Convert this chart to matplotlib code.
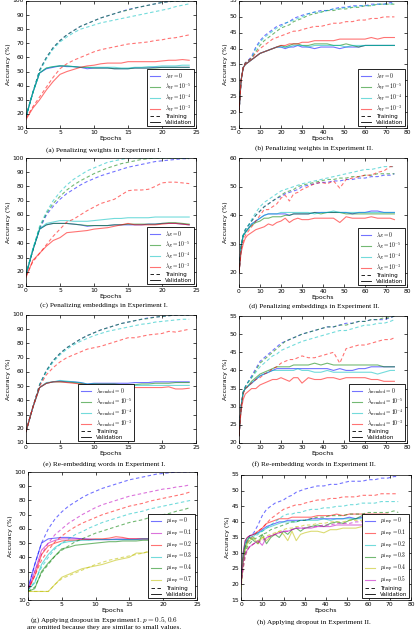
import matplotlib
matplotlib.use("Agg")
import matplotlib.pyplot as plt
from matplotlib.lines import Line2D

plt.style.use("classic")
plt.rcParams["mathtext.fontset"] = "cm"
plt.rcParams["font.family"] = "DejaVu Sans"
plt.rcParams["figure.facecolor"] = "white"

# epochs
epochs1 = list(range(25))
epochs2 = [0, 1, 2, 3, 4, 6, 8, 10, 12, 14, 16,
           18, 20, 22, 24, 26, 28, 30, 33, 36, 39, 42,
           45, 48, 51, 54, 57, 60, 63, 66, 69, 72, 74]

# (a) penalizing weights, experiment I
a_train = [
    [18, 35, 51, 60, 67, 72, 76, 79, 82, 84, 86, 88, 89.5, 91, 92.5, 94, 95, 96, 97, 98, 99, 99.5, 100, 100, 100],
    [18, 35, 51, 60, 67, 72, 76, 79, 82, 84, 86, 88, 89.5, 91, 92.5, 93.5, 95, 96, 97, 98, 99, 99.5, 100, 100, 100],
    [18, 35, 50, 59, 66, 71, 74.5, 77.5, 80, 81.5, 83, 84.5, 85.5, 86.5, 87.5, 88.5, 89.5, 90.5, 91.5, 92.5, 93.5, 94.5, 96, 97, 98],
    [17, 25, 32, 39, 46, 52, 55.5, 58, 60, 62, 64, 65.5, 66.5, 67.5, 68.5, 69.5, 70, 70.5, 71, 72, 72.5, 73.5, 74, 75, 76],
]
a_val = [
    [18, 35, 49, 52, 53, 54, 53.5, 53.5, 53, 52, 52.5, 52.5, 52.5, 52, 52, 52, 52.5, 52.5, 52.5, 53, 53, 53, 53, 53, 53],
    [18, 35, 49, 52.5, 53.5, 54, 54, 53.5, 53, 53, 52.5, 52.5, 52.5, 52, 52, 52, 52.5, 52.5, 52.5, 52.5, 53, 53, 53, 53, 53],
    [18, 35, 49, 52.5, 53.5, 54, 54, 53.5, 53, 53, 53, 53, 53, 53, 52.5, 52.5, 53, 53, 53.5, 53.5, 54, 54, 54, 54.5, 54.5],
    [16, 24, 30, 37, 43, 48, 50, 51.5, 53, 54, 54.5, 55.5, 56, 56, 56, 57, 57, 57, 57, 57, 57.5, 58, 58, 58.5, 58],
]

# (b) penalizing weights, experiment II
b_train = [
    [20, 30, 34, 35.5, 36, 37.5, 40.5, 42.5, 44, 45, 46, 47, 47.5, 48, 48.5, 49.5, 50, 50.5, 51, 51.5, 52, 52,
     52.5, 53, 53, 53.5, 53.5, 53.5, 54, 54, 54, 54.5, 54.5],
    [20, 30, 34, 35.5, 36, 37, 39, 41, 42.5, 43.5, 44.5, 45.5, 46.5, 47, 47.5, 48.5, 49, 49.5, 50.5, 51, 51.5, 52,
     52, 52.5, 52.5, 53, 53, 53.5, 53.5, 54, 54, 54, 54],
    [20, 30, 34, 35.5, 36, 37, 40, 42, 43.5, 44.5, 45.5, 46.5, 47, 48, 48.5, 49, 49.5, 50, 51, 51.5, 51.5, 52,
     52.5, 52.5, 53, 53, 53.5, 53.5, 53.5, 54, 54, 54, 54.5],
    [20, 30, 34, 35.5, 36, 37, 38.5, 40, 41, 42, 43, 43.5, 44, 44.5, 45, 45.5, 45.5, 46, 46.5, 47, 47, 47.5,
     48, 48, 48.5, 48.5, 49, 49, 49.5, 49.5, 50, 50, 50],
]
b_val = [
    [20, 30, 34, 35, 35.5, 36.5, 37.5, 38.5, 39, 39.5, 40, 40.5, 40.5, 40, 40.5, 40.5, 41, 40.5, 40.5, 40, 40.5, 40.5,
     40.5, 40, 40.5, 40.5, 40.5, 41, 41, 41, 41, 41, 41],
    [20, 30, 34, 35, 35.5, 36.5, 37.5, 38.5, 39, 39.5, 40, 40.5, 41, 40.5, 41, 41.5, 41.5, 41, 41, 41.5, 41.5, 41.5,
     41, 41, 41.5, 41, 40.5, 41, 41, 41, 41, 41, 41],
    [20, 30, 34, 35, 35.5, 36.5, 37.5, 38.5, 39, 39.5, 40, 40.5, 40.5, 40.5, 40.5, 41, 41, 41, 40.5, 41, 41, 41,
     41, 41, 40.5, 41, 41, 41, 41, 41, 41, 41, 41],
    [20, 30, 34, 35, 35.5, 36.5, 37.5, 38.5, 39, 39.5, 40, 40.5, 41, 41, 41.5, 41.5, 41.5, 42, 42, 42.5, 42.5, 42.5,
     42.5, 43, 43, 43, 43, 43, 43.5, 43, 43.5, 43.5, 43.5],
]

# (c) penalizing embeddings, experiment I
c_train = [
    [18, 35, 50, 60, 66, 71, 75, 78, 81, 83.5, 85.5, 87.5, 89, 90.5, 92, 93.5, 94.5, 95.5, 96.5, 97.5, 98, 98.5, 99, 99.5, 99.5],
    [18, 35, 51, 61, 68, 73, 77.5, 81, 84, 86.5, 89, 91, 93, 94.5, 96, 97, 98, 99, 99.5, 100, 100, 100, 100, 100, 100],
    [18, 36, 52, 62, 70, 76, 81, 85, 88, 91, 93, 95, 97, 98, 99, 100, 100, 100, 100, 100, 100, 100, 100, 100, 100],
    [17, 27, 33, 39, 45, 50, 55, 57, 60, 63, 65.5, 68, 69.5, 71, 74, 77, 77.5, 77.5, 78, 80, 82.5, 83, 83, 82.5, 82],
]
c_val = [
    [18, 35, 50, 53, 54, 54, 54, 53.5, 53, 52, 52.5, 52.5, 52.5, 53, 53, 53, 53, 53, 53.5, 53.5, 54, 54, 54, 53.5, 53],
    [18, 35, 50, 53, 54, 54, 54, 53.5, 53, 52.5, 52.5, 52.5, 52.5, 53, 53, 53.5, 53.5, 53.5, 53.5, 53.5, 54, 54.5, 54.5, 54, 53.5],
    [18, 36, 50, 54, 55, 56, 56, 55.5, 55.5, 55.5, 56, 56.5, 57, 57.5, 57.5, 58, 58, 58, 58, 58.5, 58.5, 58.5, 58.5, 58.5, 58.5],
    [16, 28, 33, 38, 42, 44, 47.5, 48, 48.5, 49, 50, 50.5, 51, 52, 53, 54, 53, 53, 53, 53, 53.5, 54, 54, 53.5, 53],
]

# (d) penalizing embeddings, experiment II
d_train = [
    [20, 29, 33, 35, 36, 38, 40, 41.5, 43, 44, 45, 46, 46.5, 47.5, 48, 48.5, 49, 50, 50.5, 51, 51.5, 51.5,
     52, 52, 52.5, 52.5, 53, 53, 53.5, 53.5, 54, 54, 54.5],
    [20, 29, 33, 35, 36, 38, 40, 41.5, 43, 44, 45, 46, 47, 48, 48.5, 49, 50, 50.5, 51, 51.5, 52, 52.5,
     52.5, 53, 53, 53.5, 53.5, 54, 54, 54.5, 54.5, 54.5, 54.5],
    [20, 29, 33, 35, 36, 38.5, 41, 43, 44.5, 45.5, 46.5, 47.5, 48.5, 49, 49.5, 50, 50.5, 51, 51.5, 52, 52.5, 53,
     53.5, 54, 54.5, 55, 55.5, 56, 56, 56.5, 57, 57, 57],
    [20, 28, 31, 33, 34, 36, 38, 40, 42, 42, 43, 44, 46, 47, 45, 47.5, 48, 49, 50, 51, 51.5, 51,
     52, 49.5, 52.5, 53, 53.5, 54, 54, 55, 55.5, 57, 57],
]
d_val = [
    [20, 29, 33, 34, 35, 37, 38, 39, 40, 40.5, 40.5, 40.5, 40.5, 40.5, 40, 40.5, 40.5, 40.5, 40.5, 41, 41, 41,
     41, 41, 41, 40.5, 41, 41, 41.5, 41.5, 41, 41, 41],
    [20, 29, 33, 34, 35, 36.5, 37.5, 38, 39, 39, 39.5, 39.5, 39.5, 40, 40, 40.5, 40.5, 40.5, 40.5, 41, 40.5, 41,
     41, 41, 40.5, 40.5, 40.5, 40.5, 40.5, 40.5, 40.5, 40.5, 40.5],
    [20, 29, 33, 34, 35, 37, 38, 39, 40, 40.5, 40.5, 40.5, 41, 41, 41, 41, 41, 41, 41, 40.5, 41, 41,
     41.5, 41, 41, 41, 41, 41, 41, 41, 41, 41, 41],
    [20, 27, 30, 32, 33, 34, 35, 35.5, 36, 37, 36.5, 37.5, 38, 39, 37.5, 38.5, 39, 38.5, 38.5, 39, 39, 39,
     39, 37.5, 39.5, 39, 39, 39, 39.5, 39, 39, 39, 38.5],
]

# (e) re-embedding words, experiment I
e_train = [
    [18, 35, 51, 61, 68, 73, 77, 80, 83, 85.5, 87.5, 89.5, 91, 92.5, 94, 95, 96, 97, 98, 98.5, 99, 99.5, 100, 100, 100],
    [18, 35, 51, 61, 68, 73, 77, 80, 83, 85.5, 87.5, 89.5, 91, 92.5, 94, 95, 96, 97, 97.5, 98.5, 99, 99.5, 100, 100, 100],
    [18, 35, 51, 60, 67, 72, 76, 79, 81.5, 83.5, 85.5, 87, 88.5, 89.5, 90.5, 91.5, 92.5, 93.5, 94, 95, 95.5, 96, 96.5, 97, 97],
    [18, 35, 50, 58, 63, 67, 70, 72, 74, 76, 77, 78, 79.5, 81, 82.5, 84, 84, 85, 86, 86.5, 87, 88.5, 88, 89, 90],
]
e_val = [
    [18, 35, 49, 52, 53, 53.5, 53, 53, 52.5, 51.5, 52, 52, 52, 52, 52, 52, 52.5, 52.5, 52.5, 53, 53, 53, 53, 53, 53],
    [18, 35, 49, 52, 53, 53, 53, 52.5, 52, 51, 51.5, 51.5, 51.5, 51.5, 51, 51, 51, 51.5, 51.5, 52, 52, 52, 52.5, 52.5, 52.5],
    [18, 35, 49, 52.5, 53, 54, 53.5, 53, 52.5, 51.5, 51.5, 51, 51, 51, 50.5, 50.5, 50.5, 50.5, 50.5, 50.5, 50.5, 50.5, 50.5, 50.5, 50.5],
    [18, 35, 49, 52, 53, 53, 52.5, 52, 51.5, 51, 50.5, 50, 50, 49.5, 49.5, 49, 49, 49, 49, 49, 49, 49.5, 48, 48, 48.5],
]

# (f) re-embedding words, experiment II
f_train = [
    [22, 30, 34, 35.5, 36.5, 38.5, 40.5, 42.5, 43.5, 44.5, 45.5, 46.5, 47.5, 48, 48.5, 49, 49.5, 50, 50.5, 51, 51.5, 52,
     52, 52.5, 53, 53, 53.5, 53.5, 54, 54, 54, 54.5, 55],
    [22, 30, 34, 35.5, 36.5, 38, 40, 42, 43, 44, 45, 46, 47, 48, 48.5, 49, 49.5, 50, 50.5, 51, 51.5, 52,
     52, 52.5, 52.5, 53, 53.5, 53.5, 54, 54, 54.5, 54.5, 55],
    [22, 30, 34, 35.5, 36.5, 38, 39.5, 41, 42, 43, 44, 44.5, 45.5, 46, 46.5, 47, 47.5, 48, 48.5, 49, 49.5, 50,
     50.5, 51, 51, 51.5, 52, 52.5, 52.5, 53, 53, 53.5, 54],
    [22, 30, 33.5, 35, 35.5, 36.5, 37.5, 38, 39, 39.5, 40.5, 41, 42, 42.5, 43, 43, 43.5, 44, 43.5, 43.5, 44, 44.5,
     45, 42, 46, 46.5, 47, 47, 47.5, 48, 48.5, 48.5, 49],
]
f_val = [
    [22, 30, 34, 35, 35.5, 36.5, 37.5, 38.5, 39, 39.5, 40, 40.5, 40.5, 40.5, 40.5, 40.5, 40.5, 40.5, 40.5, 40.5, 40.5, 40.5,
     40, 40.5, 40, 40, 40.5, 40.5, 41, 41, 41, 41, 41],
    [22, 30, 34, 35, 35.5, 37, 38, 39, 39.5, 40, 40.5, 41, 41, 41, 41, 41.5, 41.5, 41.5, 41.5, 42, 41.5, 42,
     41.5, 41.5, 41.5, 41.5, 41.5, 41.5, 41.5, 41.5, 41, 41, 41],
    [22, 30, 34, 35, 35.5, 36.5, 37.5, 38.5, 39, 39.5, 40, 40, 40, 40, 40, 40, 40.5, 40, 40, 39.5, 39.5, 40,
     39.5, 39.5, 39.5, 39.5, 39.5, 39.5, 39.5, 39, 39.5, 40, 40],
    [22, 29, 32, 33.5, 34, 35, 35, 36, 36.5, 37, 37.5, 37.5, 38, 37.5, 37, 38, 38, 36.5, 38, 37.5, 37.5, 38,
     38, 37.5, 38, 38, 38, 38, 37.5, 37.5, 37, 37, 37],
]

# (g) dropout, experiment I  (p = 0, 0.1, 0.2, 0.3, 0.4, 0.7)
g_train = [
    [18, 35, 50, 60, 67, 72, 76, 79, 82, 84.5, 86.5, 88.5, 90, 91.5, 93, 94.5, 95.5, 96.5, 97.5, 98.5, 99, 99.5, 100, 100, 100],
    [17, 30, 42, 50, 56, 60, 64, 67, 70, 72.5, 75, 77, 78.5, 80, 81.5, 83, 84, 85, 86, 87, 88, 88.5, 89.5, 90, 91],
    [17, 27, 38, 45, 51, 55, 58.5, 61.5, 64, 66, 68, 70, 71.5, 73, 74.5, 76, 77, 78, 79.5, 80.5, 81.5, 82.5, 83.5, 84.5, 86],
    [17, 23, 33, 40, 46, 50, 53, 56, 58, 60.5, 62.5, 64.5, 66, 67.5, 69, 70.5, 71.5, 72.5, 74, 75, 76, 77, 78, 79, 80],
    [16, 19, 29, 35, 41, 45, 48, 51, 53, 55, 57, 58.5, 60, 61.5, 63, 64.5, 65.5, 66.5, 68, 69, 70, 71, 72.5, 73.5, 75],
    [16, 16, 16, 16, 21, 25, 27, 29, 31, 33, 35, 36.5, 38, 39, 40, 41, 42, 43, 44.5, 45.5, 46.5, 47.5, 48.5, 49.5, 50],
]
g_val = [
    [18, 35, 50, 53, 53.5, 54, 54, 53.5, 53, 52.5, 52.5, 52.5, 52.5, 52.5, 52.5, 52.5, 52.5, 53, 53, 53, 53, 53, 53, 53, 53],
    [17, 30, 45, 50, 52, 53, 53, 53, 53, 53, 52.5, 52.5, 52.5, 53, 53, 53, 53, 53, 53, 53, 53, 53, 53, 53, 53],
    [17, 27, 42, 48, 50, 51.5, 52, 52, 52.5, 52.5, 53, 53, 53.5, 54.5, 54, 53, 53, 53, 53, 53, 53, 53, 53, 53, 53],
    [17, 22, 35, 42, 47, 50, 51, 51.5, 52, 52, 52.5, 52.5, 52.5, 52.5, 52.5, 52.5, 52.5, 53, 53, 53, 53, 53, 53, 53, 53],
    [16, 18, 30, 36, 41, 46, 47, 48.5, 49, 49.5, 50, 50.5, 51, 51, 51.5, 51.5, 51.5, 52, 52, 52.5, 52.5, 53, 53, 53, 53],
    [16, 16, 16, 16, 21, 26, 28, 30, 32, 33, 34, 35, 36.5, 38, 39, 40, 43, 43, 44, 44, 44, 44.5, 44.5, 45, 45],
]

# (h) dropout, experiment II  (p = 0 .. 0.5)
h_train = [
    [20, 29, 33, 34.5, 35.5, 36.5, 39, 42, 44, 45, 46, 46.5, 47, 48, 48.5, 49.5, 50, 50.5, 51, 51.5, 51.5, 52,
     52, 52.5, 53, 53, 53, 53.5, 53.5, 54, 54, 54.5, 54.5],
    [20, 28, 32, 33.5, 34.5, 35.5, 37, 38, 39.5, 41, 42, 43, 44, 44.5, 45, 45.5, 45.5, 46, 46.5, 47, 47, 47.5,
     47.5, 48, 48, 48, 48.5, 48.5, 48.5, 49, 49, 49, 49],
    [20, 27, 31, 33, 34, 35, 36, 37, 38, 39, 40, 41, 42, 42.5, 42.5, 43, 43, 43.5, 44, 44, 44.5, 44.5,
     45, 45, 45.5, 45.5, 46, 46, 46, 46.5, 46.5, 46.5, 46.5],
    [20, 26, 30, 32, 33, 34.5, 35, 36, 36.5, 37.5, 38, 38.5, 39, 39.5, 40, 40, 40.5, 40.5, 41, 41.5, 41.5, 42,
     42, 42, 42.5, 42.5, 42.5, 43, 43, 43, 43, 43.5, 43],
    [20, 25, 29, 31, 32, 33, 34, 35, 35.5, 36, 36.5, 37, 37.5, 38, 38, 38.5, 38.5, 39, 39, 39.5, 39.5, 40,
     40, 40, 40.5, 40.5, 40.5, 41, 41, 41, 41, 41.5, 41.5],
    [20, 25, 29, 31, 32, 33, 33.5, 34, 35, 35.5, 36, 36.5, 37, 37, 37.5, 38, 38, 38, 38.5, 38.5, 39, 39,
     39.5, 39.5, 39.5, 40, 40, 40, 40, 40.5, 40.5, 40.5, 40.5],
]
h_val = [
    [20, 30, 34, 35, 35.5, 36, 36.5, 37.5, 38.5, 39, 39.5, 40, 40, 40.5, 40.5, 40.5, 40.5, 40.5, 41, 41, 41, 41,
     41, 41, 41.5, 41, 41.5, 41.5, 41.5, 41.5, 41, 41, 41],
    [20, 30, 34, 35, 35.5, 36, 37, 38, 39.5, 40, 40.5, 41, 41, 41, 41.5, 41.5, 41.5, 41.5, 41.5, 42, 42, 42,
     42.5, 42, 42.5, 42.5, 42.5, 42.5, 42.5, 42.5, 42.5, 42, 42],
    [20, 29, 33, 34.5, 35, 35.5, 36.5, 37, 38, 38.5, 39, 39.5, 40, 40, 40, 40, 40.5, 40.5, 40.5, 40.5, 41, 40.5,
     41, 41, 41, 41, 41, 41, 41, 41.5, 41, 41, 41],
    [20, 28, 32, 34, 35, 34, 33, 36, 33, 35, 36, 35, 37, 36, 37.5, 38, 37, 38, 38.5, 39, 38.5, 39.5,
     40, 39.5, 40.5, 41, 42, 41.5, 41, 40.5, 38, 40, 40],
    [18, 27, 31, 33, 34, 35, 33, 35, 34, 35.5, 36, 37, 36, 34, 37, 34, 36, 36.5, 37, 37, 36.5, 37.5,
     37.5, 38, 38, 38, 38.5, 38.5, 38.5, 38.5, 38.5, 38.5, 38.5],
    [20, 27, 30, 31, 32, 33, 34, 32.5, 35, 35.5, 36, 36.5, 37, 37, 37.5, 38, 38, 38, 38, 38.5, 38.5, 38.5,
     39, 39, 39, 39, 39, 39, 39.5, 39.5, 39.5, 39.5, 39.5],
]

lam_vals = ["0", "10^{-5}", "10^{-4}", "10^{-3}"]
labels_a = [r"$\lambda_W = %s$" % v for v in lam_vals]
labels_c = [r"$\lambda_E = %s$" % v for v in lam_vals]
labels_e = [r"$\lambda_{\rm reembed} = %s$" % v for v in lam_vals]
labels_g = [r"$p_{\rm drop} = %s$" % v for v in ["0", "0.1", "0.2", "0.3", "0.4", "0.7"]]
labels_h = [r"$p_{\rm drop} = %s$" % v for v in ["0", "0.1", "0.2", "0.3", "0.4", "0.5"]]

cols4 = ["b", "g", "c", "r"]
cols_g = ["b", "m", "r", "c", "g", "y"]
cols_h = ["b", "r", "c", "g", "y", "m"]

W, H = 416, 632
fig = plt.figure(figsize=(W / 100, H / 100), dpi=100)


def box(l, t, r, b):
    return [l / W, 1 - b / H, (r - l) / W, (b - t) / H]


def panel(rect, x, train, val, colors, labels, ylim, yticks, xlim, xticks, leg):
    ax = fig.add_axes(box(*rect))
    for tr, va, c in zip(train, val, colors):
        ax.plot(x, tr, "--", color=c, alpha=0.55, lw=0.8, dashes=(2.5, 1.8))
        ax.plot(x, va, "-", color=c, alpha=0.55, lw=0.8)
    ax.set_xlim(*xlim)
    ax.set_ylim(*ylim)
    ax.set_xticks(xticks)
    ax.set_yticks(yticks)
    ax.tick_params(labelsize=4.3, length=2, width=0.5, pad=1.5)
    for s in ax.spines.values():
        s.set_linewidth(0.5)
    ax.set_xlabel("Epochs", fontsize=4.5, labelpad=0.5)
    ax.set_ylabel("Accuracy (%)", fontsize=4.5, labelpad=1)
    handles = [Line2D([], [], color=c, alpha=0.55, lw=0.8) for c in colors]
    handles += [Line2D([], [], color="k", ls="--", lw=0.6, dashes=(2.5, 1.8)), Line2D([], [], color="k", lw=0.6)]
    lg = ax.legend(handles, labels + ["Training", "Validation"], fontsize=4.0, handlelength=2.4,
                   borderpad=0.3, labelspacing=0.08, handletextpad=0.6, borderaxespad=0.3, **leg)
    lg.get_frame().set_linewidth(0.6)
    return ax


ex1 = dict(ylim=(10, 100), yticks=range(10, 101, 10), xlim=(0, 25), xticks=range(0, 26, 5))
x2 = dict(xlim=(0, 80), xticks=range(0, 81, 10))

panel((26, 1, 196, 128), epochs1, a_train, a_val, cols4, labels_a, leg=dict(loc="lower right"), **ex1)
panel((239, 1, 407, 128), epochs2, b_train, b_val, cols4, labels_a, ylim=(15, 55), yticks=range(15, 56, 5),
      leg=dict(loc="lower right"), **x2)
panel((26, 158, 196, 286), epochs1, c_train, c_val, cols4, labels_c, leg=dict(loc="lower right"), **ex1)
panel((239, 158, 407, 287), epochs2, d_train, d_val, cols4, labels_c, ylim=(15, 60), yticks=range(20, 61, 10),
      leg=dict(loc="lower right"), **x2)
panel((26, 315, 196, 443), epochs1, e_train, e_val, cols4, labels_e,
      leg=dict(loc="lower center", bbox_to_anchor=(0.47, 0.0)), **ex1)
panel((239, 316, 407, 443), epochs2, f_train, f_val, cols4, labels_e, ylim=(20, 55), yticks=range(20, 56, 5),
      leg=dict(loc="lower right"), **x2)
panel((28, 472, 197, 600), epochs1, g_train, g_val, cols_g, labels_g, leg=dict(loc="lower right"), **ex1)
panel((241, 475, 411, 600), epochs2, h_train, h_val, cols_h, labels_h, ylim=(15, 55), yticks=range(15, 56, 5),
      leg=dict(loc="lower right"), **x2)

cap = dict(fontsize=5.2, family="Liberation Serif", ha="center", va="center")
fig.text(104 / W, 1 - 150 / H, "(a) Penalizing weights in Experiment I.", **cap)
fig.text(314 / W, 1 - 148 / H, "(b) Penalizing weights in Experiment II.", **cap)
fig.text(104 / W, 1 - 305 / H, "(c) Penalizing embeddings in Experiment I.", **cap)
fig.text(314 / W, 1 - 306 / H, "(d) Penalizing embeddings in Experiment II.", **cap)
fig.text(104 / W, 1 - 464 / H, "(e) Re-embedding words in Experiment I.", **cap)
fig.text(314 / W, 1 - 464 / H, "(f) Re-embedding words in Experiment II.", **cap)
fig.text(104 / W, 1 - 620 / H, "(g) Applying dropout in Experiment I. $p = 0.5, 0.6$", **cap)
fig.text(104 / W, 1 - 627.5 / H, "are omitted because they are similar to small values.", **cap)
fig.text(314 / W, 1 - 622 / H, "(h) Applying dropout in Experiment II.", **cap)

fig.savefig("out.png", dpi=100, facecolor="white")
